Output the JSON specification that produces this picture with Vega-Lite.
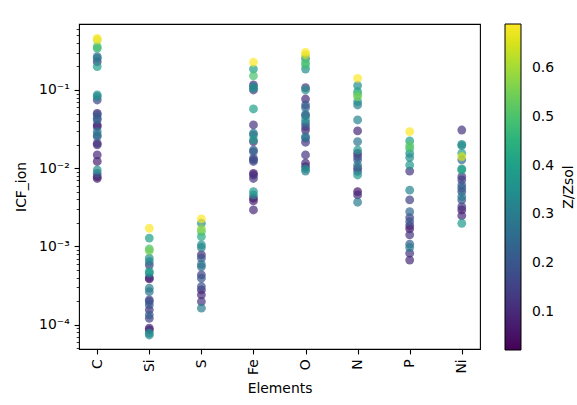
{
  "$schema": "https://vega.github.io/schema/vega-lite/v6.json",
  "width": 401,
  "height": 325,
  "autosize": {"type": "none"},
  "padding": {"left": 79, "top": 24, "right": 97, "bottom": 56},
  "background": "white",
  "config": {
    "font": "DejaVu Sans",
    "view": {"stroke": "#000", "strokeWidth": 1.1},
    "axis": {"grid": false, "domain": false, "tickColor": "#000", "labelColor": "#000", "titleColor": "#000", "labelFontSize": 13.9, "titleFontSize": 13.9, "titleFontWeight": "normal", "labelFont": "DejaVu Sans", "titleFont": "DejaVu Sans"}
  },
  "data": {"values": [
    {"el":"C","icf":0.457,"z":0.69},{"el":"C","icf":0.435,"z":0.62},{"el":"C","icf":0.357,"z":0.5},{"el":"C","icf":0.341,"z":0.45},{"el":"C","icf":0.266,"z":0.25},{"el":"C","icf":0.254,"z":0.3},{"el":"C","icf":0.23,"z":0.12},{"el":"C","icf":0.199,"z":0.4},
    {"el":"C","icf":0.0863,"z":0.35},{"el":"C","icf":0.082,"z":0.32},{"el":"C","icf":0.0745,"z":0.15},{"el":"C","icf":0.0503,"z":0.08},{"el":"C","icf":0.048,"z":0.2},{"el":"C","icf":0.0435,"z":0.2},{"el":"C","icf":0.0414,"z":0.22},{"el":"C","icf":0.0357,"z":0.1},{"el":"C","icf":0.034,"z":0.08},{"el":"C","icf":0.0294,"z":0.28},{"el":"C","icf":0.0266,"z":0.25},{"el":"C","icf":0.0254,"z":0.22},{"el":"C","icf":0.0208,"z":0.1},{"el":"C","icf":0.0199,"z":0.12},{"el":"C","icf":0.0148,"z":0.1},{"el":"C","icf":0.0122,"z":0.08},{"el":"C","icf":0.0095,"z":0.35},{"el":"C","icf":0.0086,"z":0.2},{"el":"C","icf":0.0078,"z":0.06},{"el":"C","icf":0.0074,"z":0.08},
    {"el":"Si","icf":0.00171,"z":0.69},{"el":"Si","icf":0.00128,"z":0.4},{"el":"Si","icf":0.00093,"z":0.5},{"el":"Si","icf":0.00088,"z":0.55},{"el":"Si","icf":0.00071,"z":0.35},{"el":"Si","icf":0.00064,"z":0.3},{"el":"Si","icf":0.00058,"z":0.12},{"el":"Si","icf":0.00048,"z":0.4},{"el":"Si","icf":0.000456,"z":0.32},{"el":"Si","icf":0.0004,"z":0.1},{"el":"Si","icf":0.000385,"z":0.05},{"el":"Si","icf":0.000293,"z":0.3},{"el":"Si","icf":0.000265,"z":0.28},{"el":"Si","icf":0.000208,"z":0.15},{"el":"Si","icf":0.000198,"z":0.18},{"el":"Si","icf":0.000179,"z":0.2},{"el":"Si","icf":0.000155,"z":0.12},{"el":"Si","icf":0.000134,"z":0.22},{"el":"Si","icf":0.000121,"z":0.15},{"el":"Si","icf":0.0000904,"z":0.1},{"el":"Si","icf":0.000086,"z":0.06},{"el":"Si","icf":0.000078,"z":0.35},{"el":"Si","icf":0.000074,"z":0.32},
    {"el":"S","icf":0.00225,"z":0.69},{"el":"S","icf":0.00198,"z":0.35},{"el":"S","icf":0.00168,"z":0.58},{"el":"S","icf":0.00155,"z":0.5},{"el":"S","icf":0.00134,"z":0.43},{"el":"S","icf":0.00105,"z":0.35},{"el":"S","icf":0.00097,"z":0.3},{"el":"S","icf":0.00078,"z":0.1},{"el":"S","icf":0.00071,"z":0.2},{"el":"S","icf":0.00059,"z":0.28},{"el":"S","icf":0.00055,"z":0.25},{"el":"S","icf":0.000434,"z":0.15},{"el":"S","icf":0.000393,"z":0.2},{"el":"S","icf":0.000308,"z":0.18},{"el":"S","icf":0.000279,"z":0.1},{"el":"S","icf":0.000241,"z":0.1},{"el":"S","icf":0.000198,"z":0.12},{"el":"S","icf":0.000163,"z":0.3},
    {"el":"Fe","icf":0.226,"z":0.69},{"el":"Fe","icf":0.185,"z":0.4},{"el":"Fe","icf":0.152,"z":0.5},{"el":"Fe","icf":0.116,"z":0.12},{"el":"Fe","icf":0.11,"z":0.3},{"el":"Fe","icf":0.105,"z":0.35},{"el":"Fe","icf":0.1,"z":0.12},{"el":"Fe","icf":0.0572,"z":0.4},{"el":"Fe","icf":0.0357,"z":0.12},{"el":"Fe","icf":0.028,"z":0.28},{"el":"Fe","icf":0.0266,"z":0.3},{"el":"Fe","icf":0.023,"z":0.38},{"el":"Fe","icf":0.0219,"z":0.1},{"el":"Fe","icf":0.0171,"z":0.22},{"el":"Fe","icf":0.0163,"z":0.2},{"el":"Fe","icf":0.0134,"z":0.15},{"el":"Fe","icf":0.0128,"z":0.18},{"el":"Fe","icf":0.0122,"z":0.15},{"el":"Fe","icf":0.0086,"z":0.06},{"el":"Fe","icf":0.0082,"z":0.1},{"el":"Fe","icf":0.0074,"z":0.12},{"el":"Fe","icf":0.00503,"z":0.38},{"el":"Fe","icf":0.00456,"z":0.32},{"el":"Fe","icf":0.00414,"z":0.06},{"el":"Fe","icf":0.00382,"z":0.08},{"el":"Fe","icf":0.00293,"z":0.1},
    {"el":"O","icf":0.303,"z":0.69},{"el":"O","icf":0.28,"z":0.62},{"el":"O","icf":0.254,"z":0.3},{"el":"O","icf":0.226,"z":0.5},{"el":"O","icf":0.209,"z":0.48},{"el":"O","icf":0.185,"z":0.35},{"el":"O","icf":0.107,"z":0.12},{"el":"O","icf":0.1,"z":0.35},{"el":"O","icf":0.0767,"z":0.1},{"el":"O","icf":0.0643,"z":0.2},{"el":"O","icf":0.0594,"z":0.22},{"el":"O","icf":0.0489,"z":0.3},{"el":"O","icf":0.047,"z":0.1},{"el":"O","icf":0.0414,"z":0.35},{"el":"O","icf":0.0375,"z":0.22},{"el":"O","icf":0.034,"z":0.15},{"el":"O","icf":0.0308,"z":0.08},{"el":"O","icf":0.0254,"z":0.28},{"el":"O","icf":0.0242,"z":0.22},{"el":"O","icf":0.0215,"z":0.12},{"el":"O","icf":0.0148,"z":0.12},{"el":"O","icf":0.0116,"z":0.1},{"el":"O","icf":0.0105,"z":0.08},{"el":"O","icf":0.0098,"z":0.35},{"el":"O","icf":0.0092,"z":0.3},
    {"el":"N","icf":0.141,"z":0.69},{"el":"N","icf":0.114,"z":0.35},{"el":"N","icf":0.0952,"z":0.4},{"el":"N","icf":0.088,"z":0.5},{"el":"N","icf":0.082,"z":0.55},{"el":"N","icf":0.071,"z":0.35},{"el":"N","icf":0.0643,"z":0.3},{"el":"N","icf":0.0414,"z":0.32},{"el":"N","icf":0.03,"z":0.1},{"el":"N","icf":0.0219,"z":0.28},{"el":"N","icf":0.0171,"z":0.38},{"el":"N","icf":0.0155,"z":0.08},{"el":"N","icf":0.0141,"z":0.15},{"el":"N","icf":0.0128,"z":0.2},{"el":"N","icf":0.011,"z":0.3},{"el":"N","icf":0.01,"z":0.08},{"el":"N","icf":0.0091,"z":0.2},{"el":"N","icf":0.0082,"z":0.38},{"el":"N","icf":0.00503,"z":0.06},{"el":"N","icf":0.00456,"z":0.1},{"el":"N","icf":0.00368,"z":0.3},
    {"el":"P","icf":0.0294,"z":0.69},{"el":"P","icf":0.0223,"z":0.4},{"el":"P","icf":0.0195,"z":0.52},{"el":"P","icf":0.018,"z":0.48},{"el":"P","icf":0.0155,"z":0.35},{"el":"P","icf":0.0137,"z":0.35},{"el":"P","icf":0.011,"z":0.38},{"el":"P","icf":0.0092,"z":0.12},{"el":"P","icf":0.00524,"z":0.32},{"el":"P","icf":0.00394,"z":0.15},{"el":"P","icf":0.00279,"z":0.25},{"el":"P","icf":0.00234,"z":0.15},{"el":"P","icf":0.00208,"z":0.2},{"el":"P","icf":0.00185,"z":0.1},{"el":"P","icf":0.00168,"z":0.06},{"el":"P","icf":0.00141,"z":0.12},{"el":"P","icf":0.00107,"z":0.22},{"el":"P","icf":0.00097,"z":0.3},{"el":"P","icf":0.00082,"z":0.12},{"el":"P","icf":0.00067,"z":0.1},
    {"el":"Ni","icf":0.0308,"z":0.12},{"el":"Ni","icf":0.0202,"z":0.35},{"el":"Ni","icf":0.0195,"z":0.32},{"el":"Ni","icf":0.0155,"z":0.4},{"el":"Ni","icf":0.0141,"z":0.65},{"el":"Ni","icf":0.0128,"z":0.25},{"el":"Ni","icf":0.0098,"z":0.35},{"el":"Ni","icf":0.0095,"z":0.42},{"el":"Ni","icf":0.0078,"z":0.12},{"el":"Ni","icf":0.0071,"z":0.15},{"el":"Ni","icf":0.0061,"z":0.2},{"el":"Ni","icf":0.00556,"z":0.22},{"el":"Ni","icf":0.00503,"z":0.15},{"el":"Ni","icf":0.00435,"z":0.3},{"el":"Ni","icf":0.00394,"z":0.2},{"el":"Ni","icf":0.00323,"z":0.12},{"el":"Ni","icf":0.00293,"z":0.06},{"el":"Ni","icf":0.00248,"z":0.1},{"el":"Ni","icf":0.00198,"z":0.38}
  ]},
  "layer": [
    {
      "mark": {"type": "circle", "size": 0, "opacity": 0},
      "encoding": {
        "y": {"field": "icf", "type": "quantitative",
          "scale": {"type": "log", "domain": [0.000049, 0.697], "nice": false},
          "axis": {"orient": "left", "title": null, "labels": false, "tickSize": 2.8, "tickWidth": 0.8,
            "values": [0.00005,0.00006,0.00007,0.00008,0.00009,0.0002,0.0003,0.0004,0.0005,0.0006,0.0007,0.0008,0.0009,0.002,0.003,0.004,0.005,0.006,0.007,0.008,0.009,0.02,0.03,0.04,0.05,0.06,0.07,0.08,0.09,0.2,0.3,0.4,0.5,0.6]}
        }
      }
    },
    {
      "mark": {"type": "circle", "size": 78, "opacity": 0.7},
      "encoding": {
        "x": {"field": "el", "type": "nominal", "sort": ["C","Si","S","Fe","O","N","P","Ni"],
          "scale": {"type": "point", "padding": 0.35},
          "axis": {"title": "Elements", "labelAngle": 270, "tickSize": 4.9, "tickWidth": 1.1, "labelPadding": 4.9, "titlePadding": 7}
        },
        "y": {"field": "icf", "type": "quantitative",
          "scale": {"type": "log", "domain": [0.000049, 0.697], "nice": false},
          "axis": {"orient": "left", "title": "ICF_ion", "values": [0.0001, 0.001, 0.01, 0.1],
            "labelExpr": "datum.value >= 0.09 ? '10⁻¹' : datum.value >= 0.009 ? '10⁻²' : datum.value >= 0.0009 ? '10⁻³' : '10⁻⁴'",
            "tickSize": 4.9, "tickWidth": 1.1, "labelPadding": 4.9, "titlePadding": 10}
        },
        "color": {"field": "z", "type": "quantitative",
          "scale": {"scheme": "viridis", "domain": [0.0213, 0.691]},
          "legend": {"title": "Z/Zsol", "direction": "vertical", "gradientLength": 326, "gradientThickness": 16, "offset": 25, "padding": 0,
            "values": [0.1, 0.2, 0.3, 0.4, 0.5, 0.6], "format": ".1f", "labelOffset": 11, "labelFontSize": 13.9, "labelColor": "#000",
            "titleOrient": "right", "titleAnchor": "middle", "titleFontSize": 13.9, "titleFontWeight": "normal", "titleColor": "#000", "titlePadding": 8,
            "gradientStrokeColor": "#000", "gradientStrokeWidth": 1,
            "encoding": {
              "gradient": {"opacity": {"value": 1}},
              "title": {"angle": {"value": -90}, "baseline": {"value": "top"}}
            }}
        },
        "order": {"field": "z"}
      }
    }
  ],
  "resolve": {"axis": {"y": "independent"}}
}
